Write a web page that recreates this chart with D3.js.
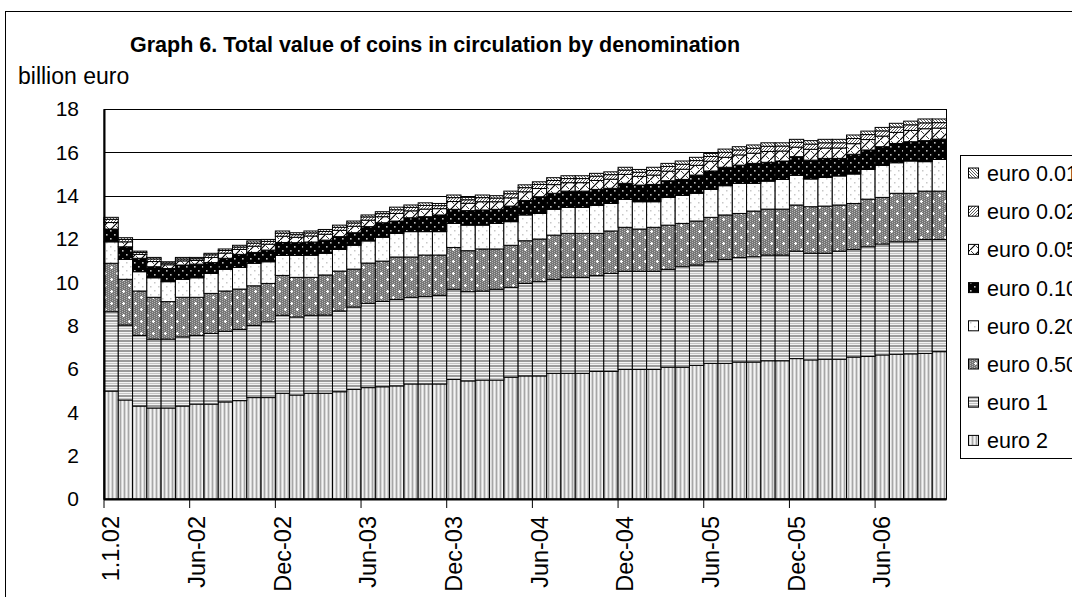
<!DOCTYPE html>
<html>
<head>
<meta charset="utf-8">
<script src="https://cdn.jsdelivr.net/npm/d3@7"></script>
<style>
  html, body { margin: 0; padding: 0; background: #fff; }
  svg { display: block; font-family: "Liberation Sans", Arial, sans-serif; }
</style>
</head>
<body>
<svg id="chart" width="1072" height="597"></svg>
<script>
// ---------- data ----------
const categories = ["1.1.02",
  "Jan-02","Feb-02","Mar-02","Apr-02","May-02","Jun-02","Jul-02","Aug-02","Sep-02","Oct-02","Nov-02","Dec-02",
  "Jan-03","Feb-03","Mar-03","Apr-03","May-03","Jun-03","Jul-03","Aug-03","Sep-03","Oct-03","Nov-03","Dec-03",
  "Jan-04","Feb-04","Mar-04","Apr-04","May-04","Jun-04","Jul-04","Aug-04","Sep-04","Oct-04","Nov-04","Dec-04",
  "Jan-05","Feb-05","Mar-05","Apr-05","May-05","Jun-05","Jul-05","Aug-05","Sep-05","Oct-05","Nov-05","Dec-05",
  "Jan-06","Feb-06","Mar-06","Apr-06","May-06","Jun-06","Jul-06","Aug-06","Sep-06","Oct-06"];
const tickLabels = ["1.1.02","Jun-02","Dec-02","Jun-03","Dec-03","Jun-04","Dec-04","Jun-05","Dec-05","Jun-06"];
const yTicks = [0,2,4,6,8,10,12,14,16,18];

const euro2 = [4.98,4.57,4.29,4.20,4.20,4.29,4.38,4.38,4.48,4.54,4.68,4.68,4.88,4.80,4.88,4.88,4.95,5.06,5.14,5.18,5.22,5.31,5.31,5.31,5.52,5.45,5.49,5.49,5.62,5.68,5.68,5.80,5.80,5.80,5.89,5.89,5.98,5.98,5.98,6.08,6.08,6.17,6.26,6.26,6.32,6.32,6.38,6.38,6.48,6.42,6.45,6.45,6.55,6.58,6.65,6.68,6.70,6.72,6.80];
const euro1 = [3.66,3.46,3.26,3.18,3.18,3.19,3.17,3.26,3.26,3.29,3.33,3.50,3.60,3.60,3.60,3.61,3.73,3.80,3.89,3.94,3.99,4.00,4.03,4.09,4.16,4.12,4.11,4.19,4.15,4.27,4.35,4.34,4.43,4.43,4.42,4.52,4.53,4.53,4.53,4.52,4.64,4.63,4.69,4.80,4.82,4.86,4.88,4.88,4.96,4.92,4.89,4.99,4.97,5.06,5.12,5.19,5.17,5.26,5.18];
const euro050 = [2.24,2.11,2.05,1.93,1.73,1.83,1.76,1.85,1.86,1.86,1.83,1.77,1.84,1.83,1.75,1.85,1.84,1.75,1.86,1.86,1.96,1.86,1.92,1.86,1.93,1.89,1.94,1.86,1.94,1.97,1.97,2.04,2.03,2.03,1.95,1.96,2.03,1.95,2.03,2.04,2.00,2.03,2.05,2.05,2.04,2.11,2.12,2.12,2.13,2.15,2.18,2.13,2.12,2.20,2.15,2.24,2.24,2.23,2.23];
const euro020 = [0.99,0.92,0.89,0.90,0.92,0.83,0.90,0.92,1.00,1.00,1.04,1.00,0.92,1.01,1.02,1.00,1.00,1.10,1.02,1.10,1.09,1.17,1.08,1.08,1.11,1.18,1.10,1.18,1.09,1.19,1.18,1.19,1.20,1.20,1.29,1.27,1.29,1.26,1.18,1.28,1.29,1.28,1.29,1.35,1.39,1.28,1.29,1.37,1.37,1.28,1.32,1.34,1.36,1.37,1.48,1.41,1.49,1.36,1.46];
const euro010 = [0.59,0.58,0.62,0.51,0.61,0.66,0.63,0.50,0.51,0.60,0.50,0.54,0.60,0.59,0.61,0.61,0.59,0.58,0.66,0.67,0.57,0.64,0.69,0.77,0.65,0.67,0.70,0.65,0.72,0.67,0.77,0.74,0.75,0.75,0.74,0.70,0.74,0.77,0.80,0.77,0.74,0.84,0.85,0.85,0.84,0.92,0.87,0.85,0.86,0.87,0.88,0.81,0.91,0.90,0.86,0.89,0.89,0.97,0.94];
const euro005 = [0.30,0.23,0.18,0.24,0.17,0.19,0.17,0.24,0.24,0.23,0.29,0.27,0.29,0.25,0.28,0.27,0.29,0.30,0.30,0.28,0.35,0.32,0.35,0.29,0.36,0.34,0.38,0.35,0.38,0.40,0.38,0.40,0.39,0.39,0.41,0.42,0.41,0.40,0.43,0.44,0.47,0.45,0.45,0.46,0.47,0.47,0.50,0.46,0.44,0.50,0.48,0.48,0.49,0.48,0.49,0.51,0.52,0.55,0.51];
const euro002 = [0.15,0.11,0.09,0.12,0.08,0.09,0.08,0.12,0.12,0.11,0.14,0.13,0.14,0.12,0.14,0.13,0.14,0.15,0.15,0.14,0.17,0.16,0.17,0.14,0.18,0.16,0.19,0.17,0.19,0.19,0.19,0.19,0.19,0.19,0.20,0.21,0.20,0.19,0.21,0.22,0.23,0.22,0.22,0.23,0.23,0.23,0.24,0.23,0.22,0.24,0.24,0.24,0.24,0.23,0.24,0.25,0.26,0.27,0.25];
const euro001 = [0.09,0.08,0.06,0.07,0.06,0.07,0.06,0.07,0.07,0.08,0.10,0.09,0.10,0.09,0.09,0.09,0.10,0.09,0.09,0.09,0.12,0.11,0.12,0.10,0.12,0.11,0.12,0.11,0.12,0.13,0.12,0.13,0.13,0.13,0.13,0.13,0.13,0.13,0.15,0.14,0.15,0.15,0.14,0.15,0.15,0.15,0.16,0.15,0.14,0.16,0.16,0.16,0.16,0.16,0.16,0.17,0.17,0.18,0.17];

const seriesNames = ["euro 2","euro 1","euro 0.50","euro 0.20","euro 0.10","euro 0.05","euro 0.02","euro 0.01"];
const seriesValues = [euro2, euro1, euro050, euro020, euro010, euro005, euro002, euro001];
const patternIds = ["p2","p1","p050","p020","p010","p005","p002","p001"];

(function () {
const FONT = "Liberation Sans, Arial, sans-serif";
const svg = d3.select("#chart");
const mLeft = 104, mRight = 946.5, mTop = 109, mBottom = 499;

const rows = categories.map((c, i) => {
  const r = { cat: c };
  seriesNames.forEach((s, k) => r[s] = seriesValues[k][i]);
  return r;
});

const x = d3.scaleBand().domain(categories).range([mLeft, mRight]).paddingInner(0).paddingOuter(0);
const y = d3.scaleLinear().domain([0, 18]).range([mBottom, mTop]);

// ---------- patterns ----------
const defs = svg.append("defs");
function pat(id, w, h, draw) {
  const p = defs.append("pattern").attr("id", id).attr("patternUnits", "userSpaceOnUse")
    .attr("width", w).attr("height", h);
  draw(p);
}
pat("p2", 4, 4, p => {
  p.append("rect").attr("width", 4).attr("height", 4).attr("fill", "#d6d6d6");
  p.append("rect").attr("x", 0).attr("width", 1).attr("height", 4).attr("fill", "#a6a6a6");
  p.append("rect").attr("x", 2).attr("width", 1).attr("height", 4).attr("fill", "#f4f4f4");
});
pat("p1", 4, 5, p => {
  p.append("rect").attr("width", 4).attr("height", 5).attr("fill", "#f4f4f4");
  p.append("rect").attr("y", 0).attr("width", 4).attr("height", 2).attr("fill", "#9c9c9c");
  p.append("rect").attr("y", 3).attr("width", 4).attr("height", 1).attr("fill", "#c4c4c4");
});
pat("p050", 12, 12, p => {
  p.append("rect").attr("width", 12).attr("height", 12).attr("fill", "#767676");
  for (let i = 0; i < 12; i += 2) for (let j = (i / 2) % 2; j < 12; j += 2)
    p.append("rect").attr("x", i).attr("y", j).attr("width", 1).attr("height", 1).attr("fill", "#b4b4b4");
  [[3, 3], [9, 9]].forEach(([cx, cy]) => {
    p.append("rect").attr("x", cx - 1).attr("y", cy).attr("width", 3).attr("height", 1).attr("fill", "#fff");
    p.append("rect").attr("x", cx).attr("y", cy - 1).attr("width", 1).attr("height", 3).attr("fill", "#fff");
  });
});
pat("p020", 8, 8, p => {
  p.append("rect").attr("width", 8).attr("height", 8).attr("fill", "#fff");
  p.append("rect").attr("x", 2).attr("y", 2).attr("width", 1.5).attr("height", 1.5).attr("fill", "#c8c8c8");
  p.append("rect").attr("x", 6).attr("y", 6).attr("width", 1.5).attr("height", 1.5).attr("fill", "#c8c8c8");
});
pat("p010", 8, 8, p => {
  p.append("rect").attr("width", 8).attr("height", 8).attr("fill", "#000");
  p.append("rect").attr("x", 2).attr("y", 2).attr("width", 1.6).attr("height", 1.6).attr("fill", "#bdbdbd");
  p.append("rect").attr("x", 6).attr("y", 6).attr("width", 1.6).attr("height", 1.6).attr("fill", "#bdbdbd");
});
pat("p005", 10, 10, p => {
  p.append("rect").attr("width", 10).attr("height", 10).attr("fill", "#fff");
  p.append("path").attr("d", "M0,10 L10,0").attr("stroke", "#000").attr("stroke-width", 1.2);
  p.append("path").attr("d", "M1,1 L4,4 M6,6 L9,9").attr("stroke", "#444").attr("stroke-width", 1);
});
pat("p002", 3, 3, p => {
  p.append("rect").attr("width", 3).attr("height", 3).attr("fill", "#fff");
  p.append("path").attr("d", "M0,3 L3,0 M-1,1 L1,-1 M2,4 L4,2").attr("stroke", "#333").attr("stroke-width", 0.8);
});
pat("p001", 3, 3, p => {
  p.append("rect").attr("width", 3).attr("height", 3).attr("fill", "#fff");
  p.append("path").attr("d", "M0,0 L3,3 M-1,2 L1,4 M2,-1 L4,1").attr("stroke", "#333").attr("stroke-width", 0.8);
});

// ---------- outer frame ----------
svg.append("rect").attr("x", 5.5).attr("y", 11.5).attr("width", 1200).attr("height", 700)
  .attr("fill", "none").attr("stroke", "#000").attr("stroke-width", 1);

// ---------- title ----------
svg.append("text").attr("x", 435).attr("y", 52).attr("text-anchor", "middle")
  .attr("font-size", 21.5).attr("font-weight", "bold").text("Graph 6. Total value of coins in circulation by denomination");
svg.append("text").attr("x", 18).attr("y", 84).attr("font-size", 23).text("billion euro");

// ---------- gridlines ----------
svg.append("g").selectAll("line").data(yTicks.filter(d => d > 0)).join("line")
  .attr("x1", mLeft).attr("x2", mRight).attr("y1", d => Math.round(y(d)) + 0.5).attr("y2", d => Math.round(y(d)) + 0.5)
  .attr("stroke", "#000").attr("stroke-width", 1);

// ---------- bars ----------
const stacked = d3.stack().keys(seriesNames)(rows);
const g = svg.append("g");
stacked.forEach((layer, k) => {
  g.append("g").selectAll("rect").data(layer).join("rect")
    .attr("x", d => x(d.data.cat))
    .attr("width", x.bandwidth())
    .attr("y", d => y(d[1]))
    .attr("height", d => y(d[0]) - y(d[1]))
    .attr("fill", `url(#${patternIds[k]})`)
    .attr("stroke", "#000").attr("stroke-width", 1);
});

// ---------- plot border ----------
svg.append("rect").attr("x", mLeft).attr("y", Math.round(y(18)) + 0.5).attr("width", mRight - mLeft)
  .attr("height", mBottom - Math.round(y(18)) - 0.5).attr("fill", "none").attr("stroke", "#000").attr("stroke-width", 1);

// ---------- axes ----------
const yAxis = d3.axisLeft(y).tickValues(yTicks).tickSize(0).tickPadding(25).tickFormat(d3.format("d"));
const yg = svg.append("g").attr("transform", `translate(${mLeft},0)`).call(yAxis);
yg.select(".domain").attr("stroke", "#000").attr("stroke-width", 2);
yg.selectAll("text").attr("font-size", 21).attr("fill", "#000").attr("font-family", FONT);

const bw = x.bandwidth();
const xAxis = d3.axisBottom(x).tickValues(tickLabels).tickSize(9).tickSizeOuter(0).tickPadding(0);
const xg = svg.append("g").attr("transform", `translate(0,${mBottom})`).call(xAxis);
xg.select(".domain").attr("stroke", "#000").attr("stroke-width", 2).attr("d", `M${mLeft},0.5H${mRight}`);
xg.selectAll(".tick line").attr("x1", -bw / 2).attr("x2", -bw / 2).attr("stroke", "#000").attr("stroke-width", 1);
xg.selectAll(".tick text")
  .attr("transform", "rotate(-90)")
  .attr("text-anchor", "end")
  .attr("x", -17).attr("y", 0).attr("dy", "0.35em")
  .attr("font-size", 23.5).attr("fill", "#000").attr("font-family", FONT);

// ---------- legend ----------
const lg = svg.append("g");
lg.append("rect").attr("x", 960.5).attr("y", 155.5).attr("width", 200).attr("height", 303)
  .attr("fill", "#fff").attr("stroke", "#000").attr("stroke-width", 1);
const legendOrder = seriesNames.map((s, k) => ({ name: s, pid: patternIds[k] })).reverse();
legendOrder.forEach((d, i) => {
  const cy = 173.5 + i * 38.2;
  lg.append("rect").attr("x", 968.5).attr("y", cy - 5.5).attr("width", 10).attr("height", 10)
    .attr("fill", `url(#${d.pid})`).attr("stroke", "#000").attr("stroke-width", 1);
  lg.append("text").attr("x", 987).attr("y", cy + 7.5).attr("font-size", 21.5).text(d.name);
});
})();
</script>
</body>
</html>
